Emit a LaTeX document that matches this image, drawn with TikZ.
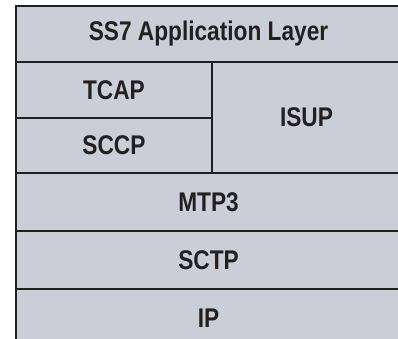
\documentclass[tikz,border=0pt]{standalone}
\usepackage{fontspec}
\newfontfamily\stackfont[FakeStretch=0.84]{Liberation Sans}
\definecolor{cellfill}{RGB}{203,206,214}
\definecolor{cellline}{RGB}{35,31,32}
\begin{document}
\begin{tikzpicture}[x=1pt,y=-1pt,
  cell/.style={draw=cellline, fill=cellfill, line width=2pt, inner sep=0pt,
    text=cellline, font=\stackfont\bfseries\fontsize{27}{30}\selectfont}]
\useasboundingbox (0,0) rectangle (398,339);
\clip (0,0) rectangle (398,339);
\node[cell, minimum width=385pt, minimum height=56pt] (app) at (208.5,34) {SS7 Application Layer};
\node[cell, minimum width=196pt, minimum height=56pt] (tcap) at (114,90) {TCAP};
\node[cell, minimum width=196pt, minimum height=55pt] (sccp) at (114,145.5) {SCCP};
\node[cell, minimum width=189pt, minimum height=111pt] (isup) at (306.5,117.5) {ISUP};
\node[cell, minimum width=385pt, minimum height=58pt] (mtp3) at (208.5,202) {MTP3};
\node[cell, minimum width=385pt, minimum height=58pt] (sctp) at (208.5,260) {SCTP};
\node[cell, minimum width=385pt, minimum height=58pt] (ip) at (208.5,318) {IP};
\end{tikzpicture}
\end{document}
